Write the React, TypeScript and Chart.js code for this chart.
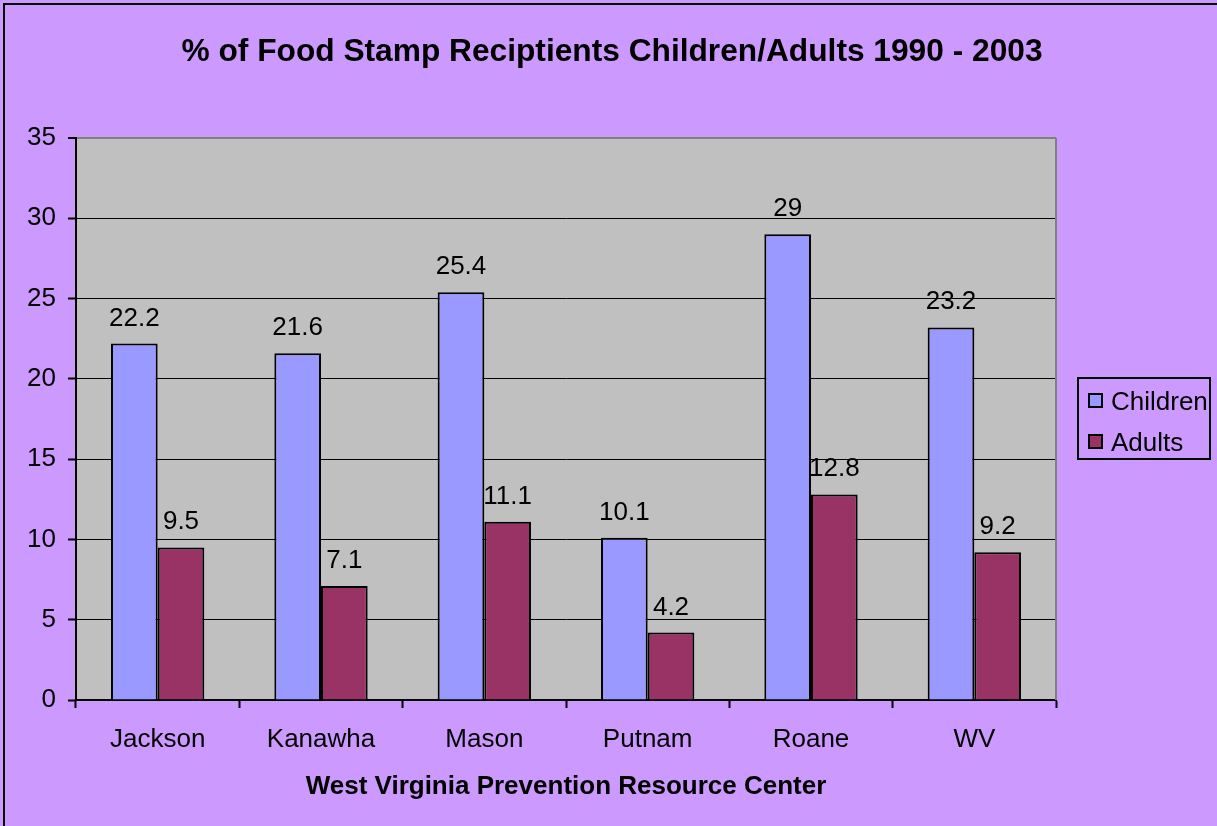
import React, { useEffect, useRef } from "react";
import { Chart, registerables } from "chart.js";

Chart.register(...registerables);

const categories = ["Jackson", "Kanawha", "Mason", "Putnam", "Roane", "WV"];
const childrenValues = [22.2, 21.6, 25.4, 10.1, 29, 23.2];
const adultsValues = [9.5, 7.1, 11.1, 4.2, 12.8, 9.2];
const seriesNames = ["Children", "Adults"];
const chartTitle = "% of Food Stamp Reciptients Children/Adults 1990 - 2003";
const xAxisTitle = "West Virginia Prevention Resource Center";

const FONT = "'Liberation Sans', Arial, sans-serif";
const BG = "#CC99FF";
const PLOT_BG = "#C0C0C0";
const COLORS = ["#9999FF", "#993366"];

const decorPlugin = {
  id: "decor",
  beforeDraw(chart: any) {
    const { ctx, chartArea } = chart;
    ctx.save();
    ctx.fillStyle = BG;
    ctx.fillRect(0, 0, chart.width, chart.height);
    ctx.strokeStyle = "#000";
    ctx.lineWidth = 2;
    ctx.strokeRect(4, 4, chart.width + 20, chart.height + 20);
    ctx.fillStyle = PLOT_BG;
    ctx.fillRect(chartArea.left, chartArea.top, chartArea.right - chartArea.left, chartArea.bottom - chartArea.top);
    ctx.restore();
  },
  afterDatasetsDraw(chart: any) {
    const { ctx, chartArea } = chart;
    ctx.save();
    // right plot border
    ctx.strokeStyle = "#808080";
    ctx.lineWidth = 2;
    ctx.beginPath();
    ctx.moveTo(chartArea.right, chartArea.top);
    ctx.lineTo(chartArea.right, chartArea.bottom);
    ctx.stroke();

    // data labels
    ctx.fillStyle = "#000";
    ctx.font = `26px ${FONT}`;
    ctx.textAlign = "center";
    ctx.textBaseline = "alphabetic";
    chart.data.datasets.forEach((ds: any, di: number) => {
      const meta = chart.getDatasetMeta(di);
      meta.data.forEach((bar: any, i: number) => {
        ctx.fillText(String(ds.data[i]), bar.x, bar.y - 18);
      });
    });

    // title
    ctx.font = `bold 31.7px ${FONT}`;
    ctx.fillText(chartTitle, 612, 61);

    // x axis title
    ctx.font = `bold 26px ${FONT}`;
    ctx.fillText(xAxisTitle, (chartArea.left + chartArea.right) / 2, 794);

    // legend
    ctx.lineWidth = 2;
    ctx.strokeStyle = "#000";
    ctx.strokeRect(1078, 378, 132, 81);
    ctx.font = `26px ${FONT}`;
    ctx.textAlign = "left";
    const rows = [
      { y: 394, base: 410 },
      { y: 435, base: 451 },
    ];
    seriesNames.forEach((name, i) => {
      ctx.fillStyle = COLORS[i];
      ctx.fillRect(1089, rows[i].y, 13, 13);
      ctx.lineWidth = 2;
      ctx.strokeRect(1089, rows[i].y, 13, 13);
      ctx.fillStyle = "#000";
      ctx.fillText(name, 1111, rows[i].base);
    });
    ctx.restore();
  },
};

export default function App() {
  const ref = useRef<HTMLCanvasElement>(null);
  useEffect(() => {
    document.body.style.margin = "0";
    const chart = new Chart(ref.current!, {
      type: "bar",
      data: {
        labels: categories,
        datasets: [
          {
            label: seriesNames[0],
            data: childrenValues,
            backgroundColor: COLORS[0],
            borderColor: "#000",
            borderWidth: 2,
            categoryPercentage: 2 / 3.5,
            barPercentage: 1,
          },
          {
            label: seriesNames[1],
            data: adultsValues,
            backgroundColor: COLORS[1],
            borderColor: "#000",
            borderWidth: 2,
            categoryPercentage: 2 / 3.5,
            barPercentage: 1,
          },
        ],
      },
      options: {
        responsive: false,
        animation: false,
        layout: { padding: { top: 138, right: 161, left: 0, bottom: 0 } },
        plugins: { legend: { display: false }, title: { display: false }, tooltip: { enabled: false } },
        scales: {
          x: {
            offset: true,
            grid: {
              display: true,
              drawOnChartArea: false,
              offset: true,
              tickLength: 8,
              tickColor: "#000",
              tickWidth: 2,
            },
            border: { color: "#000", width: 2 },
            ticks: { color: "#000", font: { family: FONT, size: 26 }, padding: 16 },
            afterFit(scale: any) {
              scale.height = 126;
            },
          },
          y: {
            min: 0,
            max: 35,
            ticks: { stepSize: 5, color: "#000", font: { family: FONT, size: 26 }, padding: 12 },
            grid: {
              color: (c: any) => (c.tick && c.tick.value === 35 ? "#808080" : "#000"),
              lineWidth: (c: any) => (c.tick && c.tick.value === 35 ? 2 : 1),
              tickColor: "#000",
              tickWidth: 2,
              tickLength: 8,
            },
            border: { color: "#000", width: 2 },
            afterFit(scale: any) {
              scale.width = 76;
            },
          },
        },
      },
      plugins: [decorPlugin],
    } as any);
    return () => chart.destroy();
  }, []);
  return (
    <div style={{ position: "absolute", left: 0, top: 0, width: 1217, height: 826 }}>
      <canvas ref={ref} width={1217} height={826} style={{ display: "block" }} />
    </div>
  );
}
